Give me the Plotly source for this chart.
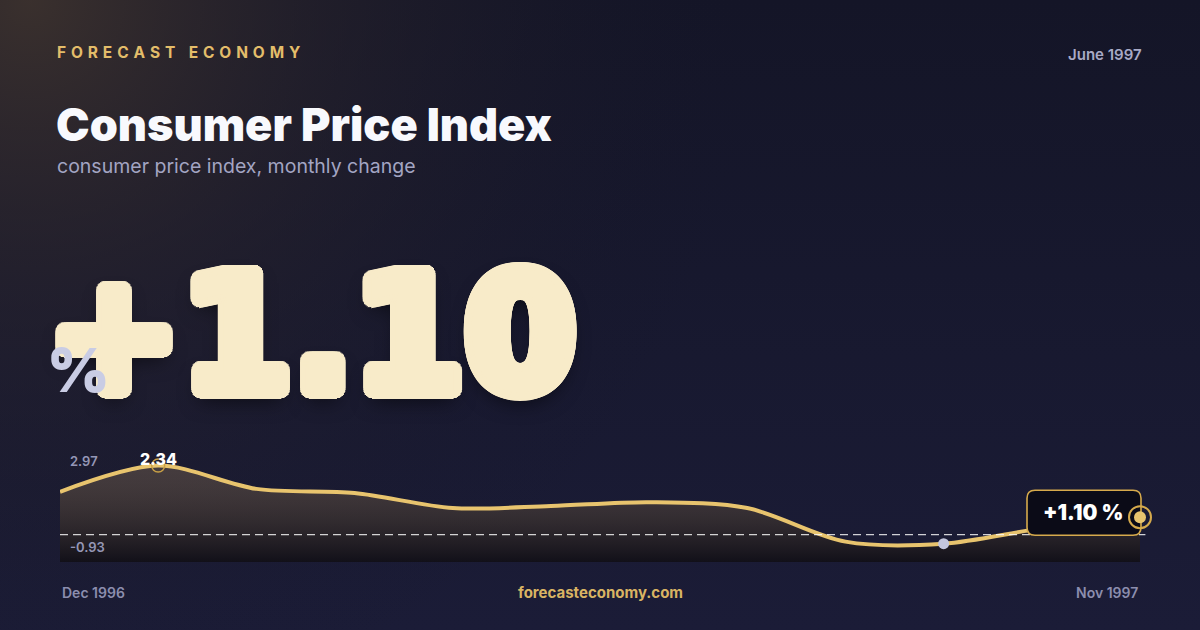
import math
import plotly.graph_objects as go

# data
months = ["Dec 1996", "Jan 1997", "Feb 1997", "Mar 1997", "Apr 1997", "May 1997",
          "Jun 1997", "Jul 1997", "Aug 1997", "Sep 1997", "Oct 1997", "Nov 1997"]
cpi_change = [1.45, 2.34, 1.55, 1.41, 0.90, 0.97, 1.10, 0.90, -0.24, -0.31, 0.21, 0.59]
axis_top = 2.97
axis_bottom = -0.93
headline_value = 1.10
headline_month = "June 1997"

brand = "FORECAST ECONOMY"
title = "Consumer Price Index"
subtitle = "consumer price index, monthly change"
site = "forecasteconomy.com"

W, H = 1200, 630
GOLD = "#e8c46e"
FONT = "Inter"
BIG_COLOR = "#f8ebc9"


def px(x):
    return x / W


def py(y):
    return 1 - y / H


idx = list(range(len(months)))
peak_i = max(idx, key=lambda i: cpi_change[i])
low_i = min(idx, key=lambda i: cpi_change[i])
last_i = idx[-1]
x_domain = [0.05, 0.95]

fig = go.Figure()

# background: vertical wash + warm glow in the top-left corner (pixel axes)
fig.add_trace(go.Scatter(
    x=[0, W, W, 0, 0], y=[0, 0, H, H, 0], mode="lines", line_width=0,
    fill="toself", hoverinfo="skip", showlegend=False,
    fillgradient=dict(type="vertical",
                      colorscale=[[0, "#1b1c37"], [1, "#141527"]]),
    xaxis="x", yaxis="y"))
fig.add_trace(go.Scatter(
    x=[-700, 760, 760, -700, -700], y=[-730, -730, 730, 730, -730], mode="lines",
    line_width=0, fill="toself", hoverinfo="skip", showlegend=False,
    fillgradient=dict(type="radial",
                      colorscale=[[0, "rgba(62,51,46,0.9)"],
                                  [0.4, "rgba(44,38,44,0.5)"],
                                  [1, "rgba(20,21,39,0)"]]),
    xaxis="x", yaxis="y"))

# area chart
fig.add_trace(go.Scatter(
    x=idx, y=[axis_bottom] * len(idx), mode="lines", line_width=0,
    hoverinfo="skip", showlegend=False, xaxis="x2", yaxis="y2"))
fig.add_trace(go.Scatter(
    x=idx, y=cpi_change, mode="lines", showlegend=False,
    line=dict(color=GOLD, width=4, shape="spline", smoothing=0.9),
    fill="tonexty",
    fillgradient=dict(type="vertical",
                      colorscale=[[0, "rgba(16,14,20,0.85)"],
                                  [1, "rgba(120,100,80,0.45)"]]),
    xaxis="x2", yaxis="y2"))
fig.add_trace(go.Scatter(
    x=[peak_i], y=[cpi_change[peak_i]], mode="markers", showlegend=False,
    marker=dict(symbol="circle-open", size=13, color="#c9a046", line=dict(width=1.5)),
    cliponaxis=False, xaxis="x2", yaxis="y2"))
fig.add_trace(go.Scatter(
    x=[low_i], y=[cpi_change[low_i]], mode="markers", showlegend=False,
    marker=dict(size=11, color="#c3c6de"),
    cliponaxis=False, xaxis="x2", yaxis="y2"))

# badge box + end marker, anchored to the last point (pixel offsets);
# x is given in paper units (right end of the x2 domain) so nothing gets clipped
l, rt, b, t, r = -113, 1, -18, 27, 8
badge_path = (f"M {l + r},{b} L {rt - r},{b} Q {rt},{b} {rt},{b + r} "
              f"L {rt},{t - r} Q {rt},{t} {rt - r},{t} L {l + r},{t} "
              f"Q {l},{t} {l},{t - r} L {l},{b + r} Q {l},{b} {l + r},{b} Z")
end_anchor = dict(xref="paper", yref="y2", xsizemode="pixel", ysizemode="pixel",
                  xanchor=x_domain[1], yanchor=cpi_change[-1])

shapes = [
    dict(type="line", xref="x2 domain", x0=0, x1=1.005, yref="y2", y0=0, y1=0,
         line=dict(color="rgba(255,255,255,0.8)", width=1.3, dash="8px,5px")),
    dict(type="path", path=badge_path, fillcolor="#0b0b17",
         line=dict(color="#d6aa4c", width=1.6), **end_anchor),
    dict(type="circle", x0=-11, x1=11, y0=-11, y1=11,
         fillcolor="rgba(0,0,0,0)", line=dict(color="#d6aa4c", width=2), **end_anchor),
    dict(type="circle", x0=-6, x1=6, y0=-6, y1=6,
         fillcolor=GOLD, line=dict(width=0), **end_anchor),
]


def note(text, x, y, size, color, weight=400, xanchor="left", family=FONT):
    return dict(text=text, x=x, y=y, xref="paper", yref="paper", showarrow=False,
                xanchor=xanchor, yanchor="middle",
                font=dict(family=family, size=size, color=color, weight=weight))


spaced_brand = "\u2009\u2009".join(brand)

# the headline glyphs are extra heavy: thicken them with a ring of solid shadows
ring = [f"{8.5 * math.cos(a * math.pi / 16):.1f}px {8.5 * math.sin(a * math.pi / 16):.1f}px 0 {BIG_COLOR}"
        for a in range(32)]
big = note(f"+{headline_value:.2f}", px(45), py(334), 160, BIG_COLOR, 700,
           family="DejaVu Sans")
big["font"]["shadow"] = ", ".join(ring + ["0px 10px 20px rgba(0,0,0,0.6)"])

annotations = [
    note(spaced_brand, px(55), py(52), 15.5, "#e3bd6a", 700),
    note(headline_month, px(1144), py(54), 15, "#a8aac6", 600, xanchor="right"),
    note(title, px(54), py(125), 45, "#f8f9fd", 900),
    note(subtitle, px(55), py(166), 19.5, "#a3a5c3", 400),
    big,
    note("%", px(45), py(370), 60, "#c9cce4", 900),
    note(f"{axis_top:.2f}", px(68), py(461), 13, "#9597b6", 600),
    note(f"{axis_bottom:.2f}", px(68), py(547), 13, "#9597b6", 600),
    note(months[0], px(60), py(592), 14, "#8c8eae", 600),
    note(site, px(600), py(592), 15, "#d9b463", 700, xanchor="center"),
    note(months[-1], px(1140), py(592), 14, "#8c8eae", 600, xanchor="right"),
    dict(text=f"{cpi_change[peak_i]:.2f}", x=peak_i, y=cpi_change[peak_i],
         xref="x2", yref="y2", showarrow=False, yshift=7,
         font=dict(family=FONT, size=16, color="#ffffff", weight=800)),
    dict(text=f"+{headline_value:.2f} %", x=last_i, y=cpi_change[-1],
         xref="x2", yref="y2", showarrow=False, xshift=-57, yshift=5,
         font=dict(family=FONT, size=21, color="#ffffff", weight=900)),
]

fig.update_layout(
    width=W, height=H,
    margin=dict(l=0, r=0, t=0, b=0),
    paper_bgcolor="#15162a", plot_bgcolor="rgba(0,0,0,0)",
    xaxis=dict(domain=[0, 1], range=[0, W], visible=False, fixedrange=True),
    yaxis=dict(domain=[0, 1], range=[H, 0], visible=False, fixedrange=True),
    xaxis2=dict(domain=x_domain, range=[0, len(idx) - 1], visible=False,
                anchor="y2", fixedrange=True),
    yaxis2=dict(domain=[py(562), py(447)], range=[axis_bottom, axis_top],
                visible=False, anchor="x2", fixedrange=True),
    shapes=shapes, annotations=annotations,
    showlegend=False, hovermode=False,
)

fig.write_html("out.html", config={"displayModeBar": False},
               post_script="document.body.style.margin='0';")
